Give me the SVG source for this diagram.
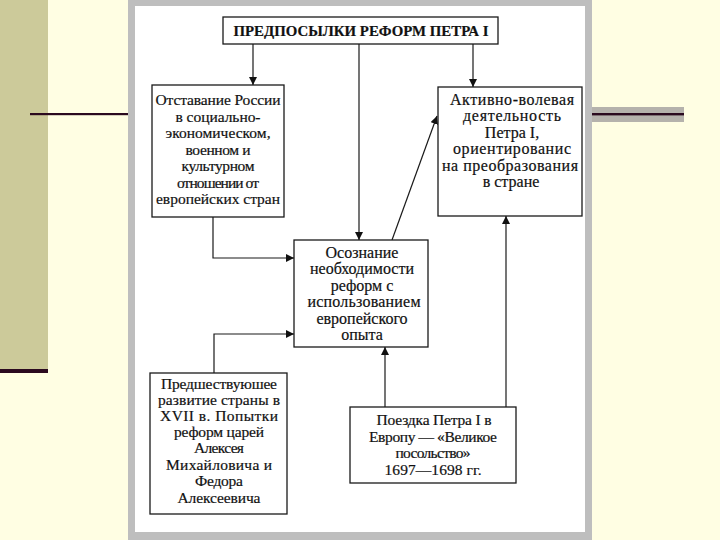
<svg xmlns="http://www.w3.org/2000/svg" width="720" height="540" viewBox="0 0 720 540">
<defs>
<style>
.box{fill:#ffffff;stroke:#1a1a1a;stroke-width:1.3}
.ln{fill:none;stroke:#1a1a1a;stroke-width:1.2}
text{font-family:"Liberation Serif","Times New Roman",serif;font-size:15.5px;fill:#111;stroke:#111;stroke-width:0.2;text-anchor:middle}
.t{font-weight:bold;font-size:15px;stroke-width:0.2}
.r{font-size:16px}
.c{font-size:16px}
</style>
<marker id="ah" viewBox="0 0 10 10" refX="10" refY="5" markerWidth="8" markerHeight="8" markerUnits="userSpaceOnUse" orient="auto">
<path d="M0,0 L10,5 L0,10 z" fill="#111"/>
</marker>
</defs>
<rect x="0" y="0" width="720" height="540" fill="#FFFEE3"/>
<rect x="0" y="0" width="48" height="369" fill="#CCCA9A"/>
<rect x="0" y="369" width="48" height="4" fill="#2B0A1F"/>
<rect x="30" y="113" width="100" height="2.2" fill="#2B0A1F"/>
<rect x="592" y="107" width="92" height="15" fill="#B5B2AC"/>
<rect x="592" y="113" width="92" height="2.4" fill="#2B0A1F"/>
<rect x="128" y="0" width="464" height="540" fill="#BEBEBE"/>
<rect x="135" y="6" width="450" height="526" fill="#ffffff"/>

<g id="connectors">
<path class="ln" d="M253,44 V85" marker-end="url(#ah)"/>
<path class="ln" d="M473,44 V87" marker-end="url(#ah)"/>
<path class="ln" d="M359,44 V240" marker-end="url(#ah)"/>
<path class="ln" d="M213,217 V258 H294" marker-end="url(#ah)"/>
<path class="ln" d="M214,373 V334 H294" marker-end="url(#ah)"/>
<path class="ln" d="M392,240 L437,116" marker-end="url(#ah)"/>
<path class="ln" d="M385,407 V347" marker-end="url(#ah)"/>
<path class="ln" d="M506,407 V216" marker-end="url(#ah)"/>
</g>

<g id="title">
<rect class="box" x="223" y="17" width="275" height="27"/>
<text class="t" x="361" y="36" textLength="255" lengthAdjust="spacingAndGlyphs">ПРЕДПОСЫЛКИ РЕФОРМ ПЕТРА I</text>
</g>

<g id="lag">
<rect class="box" x="152" y="85" width="132" height="132"/>
<text x="218" y="105" textLength="125">Отставание России</text>
<text x="218" y="121.5" textLength="85">в социально-</text>
<text x="218" y="138" textLength="105">экономическом,</text>
<text x="218" y="154.5" textLength="65">военном и</text>
<text x="218" y="171" textLength="73">культурном</text>
<text x="218" y="187.5" textLength="82">отношении от</text>
<text x="218" y="204" textLength="124">европейских стран</text>
</g>

<g id="activity">
<rect class="box" x="438" y="87" width="144" height="129"/>
<text class="r" x="512" y="104.5" textLength="124">Активно-волевая</text>
<text class="r" x="512" y="121" textLength="98">деятельность</text>
<text class="r" x="512" y="137.5">Петра I,</text>
<text class="r" x="512" y="154" textLength="118">ориентированис</text>
<text class="r" x="510" y="170.5" textLength="136">на преобразования</text>
<text class="r" x="511" y="187">в стране</text>
</g>

<g id="awareness">
<rect class="box" x="294" y="240" width="134" height="107"/>
<text class="c" x="362" y="257.5">Осознание</text>
<text class="c" x="362" y="274">необходимости</text>
<text class="c" x="362" y="290.5">реформ с</text>
<text class="c" x="364" y="307" textLength="113">использованием</text>
<text class="c" x="362" y="323.5">европейского</text>
<text class="c" x="362" y="340">опыта</text>
</g>

<g id="previous">
<rect class="box" x="150" y="373" width="137" height="141"/>
<text x="219" y="388.5" textLength="116">Предшествуюшее</text>
<text x="219" y="404.5" textLength="122">развитие страны в</text>
<text x="219" y="421" textLength="118">XVII в. Попытки</text>
<text x="219" y="437" textLength="90">реформ царей</text>
<text x="219" y="453" textLength="50">Алексея</text>
<text x="219" y="469.5" textLength="106">Михайловича и</text>
<text x="219" y="485.5" textLength="48">Федора</text>
<text x="219" y="502.5" textLength="83">Алексеевича</text>
</g>

<g id="embassy">
<rect class="box" x="350" y="407" width="166" height="76"/>
<text x="434" y="425" textLength="115">Поездка Петра I в</text>
<text x="433" y="441.5" textLength="128">Европу — «Великое</text>
<text x="433" y="458" textLength="75">посольство»</text>
<text x="433" y="474.5" textLength="97">1697—1698 гг.</text>
</g>
</svg>
